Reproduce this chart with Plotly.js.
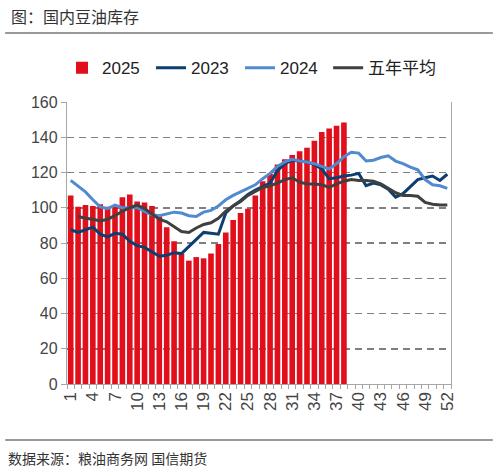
<!DOCTYPE html>
<html>
<head>
<meta charset="utf-8">
<script src="https://cdn.plot.ly/plotly-3.0.1.min.js"></script>
<style>html,body{margin:0;padding:0;background:#fff;}#chart{width:498px;height:473px;}</style>
</head>
<body>
<div id="chart"></div>
<script>
const weeks = Array.from({length: 52}, (_, i) => i + 1);
const tickWeeks = [1,4,7,10,13,16,19,22,25,28,31,34,37,40,43,46,49,52];

const stock2025 = [107,100.5,101.5,101,102,100.5,100.5,106,107.5,103.5,103,101,95,89,81,74,70,72,71.3,74,
  79.5,86,93,97,99.5,107,115,119.5,124.5,127.5,130,132,134,138,143,145,146.5,148.3];

const stock2023 = [87.5,86,87.5,89,85,83.5,85.5,85,81,78.5,77.5,75,72.5,73,74.5,74,78,82.5,86,85.5,
  85,97,101,104,107.5,110,112,114,121,125,127,126.5,126,124.5,122,116.5,117,118,118.5,119.5,
  112.5,114,113,110.5,106,108,112,116,117,118,115.5,119];

const stock2024 = [115.5,112,109,104.5,100.5,99.5,101.5,100,100,100,98,96,95.5,96.5,97.5,97,95.5,95,97.5,98.5,
  101,104.5,107,109,111,113,116.5,119.5,123.5,126,127.5,126.5,126,125,123.5,122,125,129,131.5,131,
  126.5,127,128.5,129.5,126.5,125,123,121.5,116,113,112.5,111];

const stockAvg = [null,95,94,93.5,92.5,93.5,95.5,98,100,101.5,99.5,96.5,93.5,92,89,86.5,86,88.5,90.5,91.5,
  94,98,101,103.5,107,109.5,111.5,112.5,114,116,117,114.5,113.5,113.5,113,111.5,113.5,115,116,115.5,
  115.5,115,113.5,111,108.5,107,107,106.5,103,102,101.5,101.5];

const names = ['2025','2023','2024','五年平均'];
const titleText = '图：国内豆油库存';
const sourceText = '数据来源：粮油商务网 国信期货';

const sans = '"Liberation Sans", Arial, "Noto Sans CJK SC", sans-serif';
const cjk = '"Noto Sans CJK SC", "Noto Sans", sans-serif';

const traces = [
  {type:'bar', x: weeks.slice(0, stock2025.length), y: stock2025, name: names[0],
   marker:{color:'#E00F1B'}, width:0.76, legend:'legend'},
  {type:'scatter', mode:'lines', x: weeks, y: stock2023, name: names[1],
   line:{color:'#0C3F70', width:3}, legend:'legend'},
  {type:'scatter', mode:'lines', x: weeks, y: stock2024, name: names[2],
   line:{color:'#528AD0', width:3}, legend:'legend'},
  {type:'scatter', mode:'lines', x: weeks, y: stockAvg, name: names[3],
   line:{color:'#404040', width:3}, legend:'legend2'}
];

const legendFont = {family: sans, size:17, color:'#222'};

const layout = {
  width:498, height:473,
  margin:{l:67, r:47, t:102, b:89},
  paper_bgcolor:'#fff', plot_bgcolor:'#fff',
  showlegend:true,
  legend:{orientation:'h', x:-0.013, xanchor:'left', y:1.12, yanchor:'middle',
    font:legendFont, itemwidth:30, tracegroupgap:0,
    entrywidth:44, entrywidthmode:'pixels', bgcolor:'rgba(0,0,0,0)'},
  legend2:{orientation:'h', x:0.68, xanchor:'left', y:1.12, yanchor:'middle',
    font:legendFont, itemwidth:30, bgcolor:'rgba(0,0,0,0)'},
  xaxis:{range:[0.5,52.5], tickmode:'array', tickvals: tickWeeks, ticktext: tickWeeks.map(String),
    tickangle:-90, ticks:'', showgrid:false, zeroline:false,
    showline:true, linecolor:'#A6A6A6', linewidth:1.2,
    minor:{ticks:'outside', tick0:0.5, dtick:1, ticklen:4, tickcolor:'#A6A6A6', tickwidth:1, showgrid:false},
    tickfont:{family: sans, size:17, color:'#444'}, fixedrange:true},
  yaxis:{range:[0,160], dtick:20, tick0:0, ticks:'outside', ticklen:5, tickcolor:'#A6A6A6',
    showline:true, mirror:true, linecolor:'#A6A6A6', linewidth:1.2,
    showgrid:true, gridcolor:'#808080', gridwidth:1.5, griddash:'7px,5px', zeroline:false,
    tickfont:{family: sans, size:16, color:'#444'}, fixedrange:true},
  bargap:0.24,
  annotations:[
    {text:titleText, xref:'paper', yref:'paper', x:-0.15, y:1.306, xanchor:'left', yanchor:'middle',
     showarrow:false, font:{family:cjk, size:16, color:'#333'}},
    {text:sourceText, xref:'paper', yref:'paper', x:-0.16, y:-0.262, xanchor:'left', yanchor:'middle',
     showarrow:false, font:{family:cjk, size:14, color:'#333'}}
  ],
  shapes:[
    {type:'line', xref:'paper', yref:'paper', x0:-0.161, x1:1.109, y0:1.245, y1:1.245,
     line:{color:'#777', width:1.5}},
    {type:'line', xref:'paper', yref:'paper', x0:-0.161, x1:1.109, y0:-0.199, y1:-0.199,
     line:{color:'#777', width:1.5}}
  ]
};

Plotly.newPlot('chart', traces, layout, {displayModeBar:false, staticPlot:true});
</script>
</body>
</html>
